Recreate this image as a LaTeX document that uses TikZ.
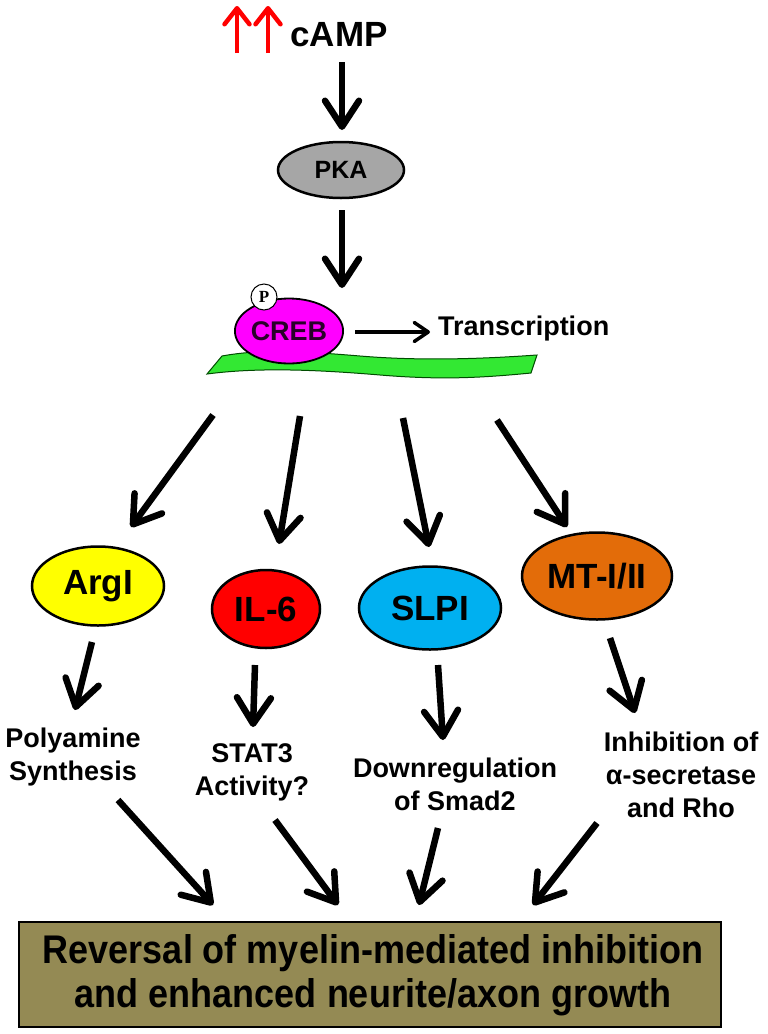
\documentclass[tikz,border=0pt]{standalone}
\usepackage{fontspec}
\setmainfont{Liberation Sans}
\newfontfamily\timesfont{Liberation Serif}
\usetikzlibrary{arrows.meta,shapes.geometric}
\definecolor{pkagray}{HTML}{A6A6A6}
\definecolor{crebmag}{HTML}{FF00FF}
\definecolor{crebtxt}{HTML}{2A002A}
\definecolor{bandgreen}{HTML}{33E833}
\definecolor{argyellow}{HTML}{FFFF00}
\definecolor{ilred}{HTML}{FF0000}
\definecolor{slpiblue}{HTML}{00B0F0}
\definecolor{mtorange}{HTML}{E36C09}
\definecolor{boxolive}{HTML}{948A54}
\tikzset{
  bigarrow/.style={line width=6.5pt, -{Straight Barb[length=26pt,width=34pt,round]}},
  redarrow/.style={red, line width=4.5pt, -{Straight Barb[length=16pt,width=25pt,round]}},
  thinarrow/.style={line width=3.5pt, -{Straight Barb[length=14pt,width=19pt,round]}},
  blob/.style={ellipse, draw=black, line width=2.5pt, inner sep=0pt, font=\bfseries\fontsize{35}{35}\selectfont},
  lbl/.style={align=center, inner sep=0pt, font=\bfseries\fontsize{27}{33}\selectfont}
}
\begin{document}
\begin{tikzpicture}[x=1pt,y=-1pt]
\useasboundingbox (0,0) rectangle (768,1034);
% top
\node[font=\bfseries\fontsize{35}{35}\selectfont, inner sep=0pt] (camp) at (339,35) {cAMP};
\coordinate (r1s) at (237,53); \coordinate (r1e) at (237,6);
\coordinate (r2s) at (268,53); \coordinate (r2e) at (268,6);
\draw[redarrow] (r1s) -- (r1e);
\draw[redarrow] (r2s) -- (r2e);
\node[blob, fill=pkagray, minimum width=126pt, minimum height=56pt, font=\bfseries\fontsize{25}{25}\selectfont] (pka) at (341,170) {PKA};
\coordinate (a1s) at (342,62); \coordinate (a1e) at (342,130);
\draw[bigarrow] (a1s) -- (a1e);
\coordinate (a2s) at (342,210); \coordinate (a2e) at (342,288);
\draw[bigarrow] (a2s) -- (a2e);
% DNA band
\draw[fill=bandgreen, draw=black!70!green, line width=1pt] (207,374) -- (222,356)
  .. controls (260,349) and (300,351) .. (360,356)
  .. controls (420,361) and (480,359) .. (537,355) -- (531,373)
  .. controls (480,378) and (440,380) .. (380,375)
  .. controls (320,370) and (260,367) .. (207,374) -- cycle;
\node[blob, fill=crebmag, line width=1.8pt, minimum width=103pt, minimum height=65pt, text=crebtxt, font=\bfseries\fontsize{27}{27}\selectfont] (creb) at (289,331) {CREB};
\node[circle, draw=black, fill=white, line width=1pt, minimum size=26pt, inner sep=0pt, font=\timesfont\bfseries\fontsize{17}{17}\selectfont] (p) at (264,297) {P};
\coordinate (ts) at (355,332); \coordinate (te) at (430,332);
\draw[thinarrow] (ts) -- (te);
\node[lbl, anchor=west] (trans) at (438,329) {Transcription};
% band arrows
\coordinate (b1s) at (213,415); \coordinate (b1e) at (131,527);
\coordinate (b2s) at (300,416); \coordinate (b2e) at (279,544);
\coordinate (b3s) at (403,418); \coordinate (b3e) at (429,547);
\coordinate (b4s) at (497,420); \coordinate (b4e) at (567,527);
\draw[bigarrow] (b1s) -- (b1e);
\draw[bigarrow] (b2s) -- (b2e);
\draw[bigarrow] (b3s) -- (b3e);
\draw[bigarrow] (b4s) -- (b4e);
% effectors
\node[blob, fill=argyellow, minimum width=132pt, minimum height=79pt] (arg) at (98,586) {ArgI};
\node[blob, fill=ilred, minimum width=108pt, minimum height=78pt] (il6) at (266,609) {IL-6};
\node[blob, fill=slpiblue, minimum width=142pt, minimum height=83pt] (slpi) at (430,608) {SLPI};
\node[blob, fill=mtorange, minimum width=150pt, minimum height=87pt] (mt) at (597,576) {MT-I/II};
% arrows to outcomes
\coordinate (c1s) at (92,642); \coordinate (c1e) at (75,710);
\coordinate (c2s) at (255,665); \coordinate (c2e) at (253,727);
\coordinate (c3s) at (438,665); \coordinate (c3e) at (443,740);
\coordinate (c4s) at (610,638); \coordinate (c4e) at (635,713);
\draw[bigarrow] (c1s) -- (c1e);
\draw[bigarrow] (c2s) -- (c2e);
\draw[bigarrow] (c3s) -- (c3e);
\draw[bigarrow] (c4s) -- (c4e);
\node[lbl] (poly) at (73,757) {Polyamine\\Synthesis};
\node[lbl] (stat) at (252,772) {STAT3\\Activity?};
\node[lbl] (smad) at (455,784) {Downregulation\\of Smad2};
\node[lbl] (inh) at (681,775) {Inhibition of\\α-secretase\\and Rho};
% final arrows
\coordinate (d1s) at (118,800); \coordinate (d1e) at (213,905);
\coordinate (d2s) at (275,820); \coordinate (d2e) at (338,905);
\coordinate (d3s) at (438,828); \coordinate (d3e) at (419,905);
\coordinate (d4s) at (597,823); \coordinate (d4e) at (533,905);
\draw[bigarrow] (d1s) -- (d1e);
\draw[bigarrow] (d2s) -- (d2e);
\draw[bigarrow] (d3s) -- (d3e);
\draw[bigarrow] (d4s) -- (d4e);
\node[draw=black, line width=2.5pt, fill=boxolive, minimum width=702pt, minimum height=105pt, inner sep=0pt] (box) at (370,974.5) {};
\node[align=center, inner sep=0pt, font=\bfseries\fontsize{40}{44}\selectfont] (boxtxt) at (373,975) {\scalebox{0.9}[1]{Reversal of myelin-mediated inhibition}\\\scalebox{0.9}[1]{and enhanced neurite/axon growth}};
\end{tikzpicture}
\end{document}
